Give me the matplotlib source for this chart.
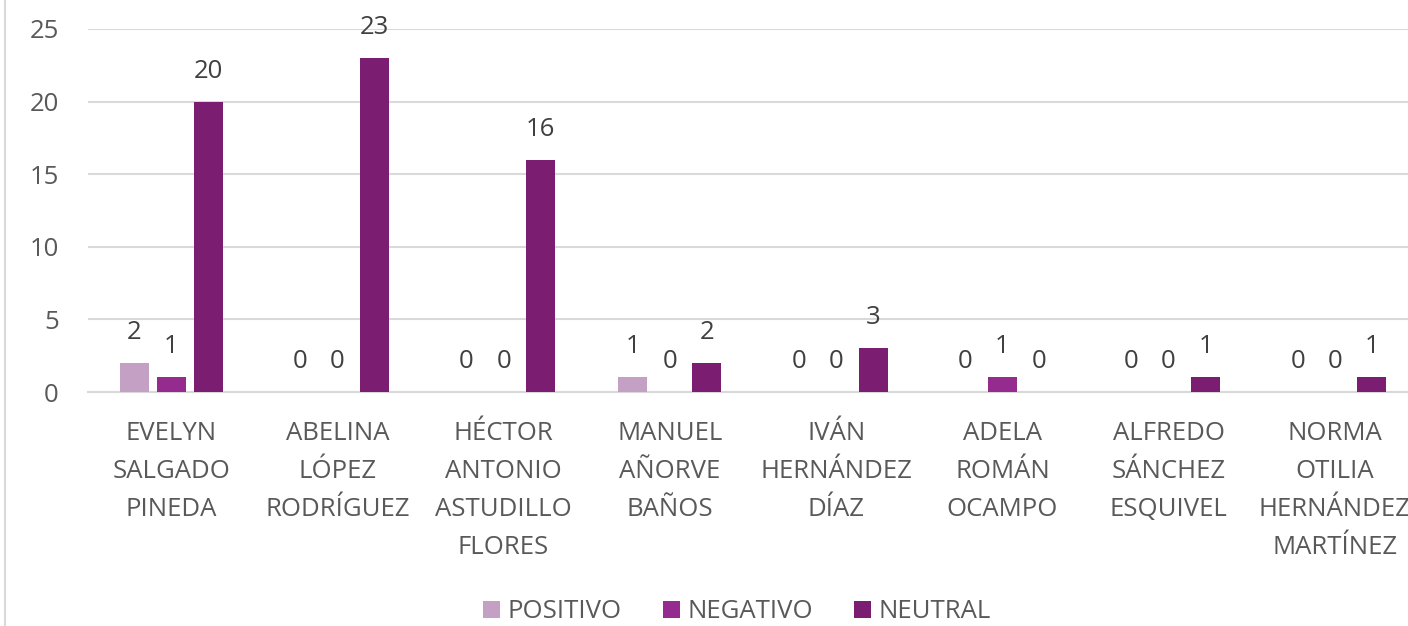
import matplotlib.pyplot as plt
import numpy as np
from matplotlib.lines import Line2D

categories = [
    "EVELYN\nSALGADO\nPINEDA",
    "ABELINA\nLÓPEZ\nRODRÍGUEZ",
    "HÉCTOR\nANTONIO\nASTUDILLO\nFLORES",
    "MANUEL\nAÑORVE\nBAÑOS",
    "IVÁN\nHERNÁNDEZ\nDÍAZ",
    "ADELA\nROMÁN\nOCAMPO",
    "ALFREDO\nSÁNCHEZ\nESQUIVEL",
    "NORMA\nOTILIA\nHERNÁNDEZ\nMARTÍNEZ",
]
positivo = [2, 0, 0, 1, 0, 0, 0, 0]
negativo = [1, 0, 0, 0, 0, 1, 0, 0]
neutral = [20, 23, 16, 2, 3, 0, 1, 1]

series = [
    ("POSITIVO", positivo, "#C4A0C4"),
    ("NEGATIVO", negativo, "#952A8F"),
    ("NEUTRAL", neutral, "#7B1E72"),
]

plt.rcParams["font.family"] = ["Open Sans", "DejaVu Sans"]
fs = 18.5

fig = plt.figure(figsize=(14.08, 6.26), dpi=100)
ax = fig.add_axes([88 / 1408, 1 - 392 / 626, (1418 - 88) / 1408, (392 - 29) / 626])

x = np.arange(len(categories))
width = 0.175
offset = 0.223

for i, (name, vals, color) in enumerate(series):
    pos = x + (i - 1) * offset
    bars = ax.bar(pos, vals, width, color=color, label=name, zorder=3)
    for b, v in zip(bars, vals):
        ax.annotate(str(v), (b.get_x() + b.get_width() / 2, v),
                    xytext=(0, 13), textcoords="offset points",
                    ha="center", va="bottom", fontsize=fs, color="#404040")

ax.set_xlim(-0.5, len(categories) - 0.5)
ax.set_ylim(0, 25)
ax.set_yticks(range(0, 26, 5))
ax.yaxis.grid(True, color="#D9D9D9", lw=1.5, zorder=0)
ax.set_axisbelow(True)
for s in ["top", "right", "left"]:
    ax.spines[s].set_visible(False)
ax.spines["bottom"].set_color("#D9D9D9")
ax.spines["bottom"].set_linewidth(1.5)
ax.tick_params(axis="both", length=0, labelsize=fs, colors="#595959")
ax.tick_params(axis="y", pad=21)
ax.tick_params(axis="x", pad=21)
ax.set_xticks(x)
ax.set_xticklabels(categories, linespacing=1.68)

ax.legend(loc="center", ncol=3, frameon=False, fontsize=fs,
          labelcolor="#595959", handlelength=0.65, handleheight=0.65,
          handletextpad=0.3, columnspacing=1.6,
          bbox_to_anchor=(737 / 1408, 1 - 612 / 626), bbox_transform=fig.transFigure)

fig.add_artist(Line2D([5 / 1408, 5 / 1408], [0, 1], color="#D9D9D9", lw=1.5,
                      transform=fig.transFigure))

fig.savefig("out.png", dpi=100)
